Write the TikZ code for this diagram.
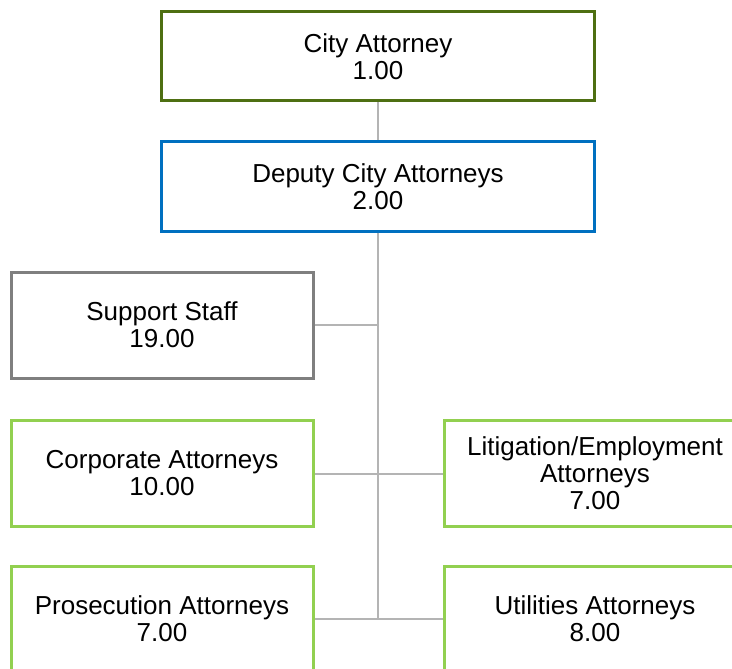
\documentclass[tikz,border=0pt]{standalone}
\usepackage{fontspec}
\setmainfont{Liberation Sans}
\definecolor{darkgreen}{HTML}{4E6F12}
\definecolor{deputyblue}{HTML}{0070C0}
\definecolor{staffgrey}{HTML}{7F7F7F}
\definecolor{lightgreen}{HTML}{92D050}
\definecolor{linkgrey}{HTML}{B4B4B4}
\begin{document}
\begin{tikzpicture}[x=1pt,y=1pt,
  box/.style={draw, line width=3pt, fill=white, inner sep=0pt, align=center,
    font=\fontsize{26}{27}\selectfont},
  topbox/.style={box, minimum width=433pt, minimum height=89pt},
  sidebox/.style={box, minimum width=302pt, minimum height=106pt},
  link/.style={draw=linkgrey, line width=2pt}]
\useasboundingbox (0,0) rectangle (732,-669);
\clip (0,0) rectangle (732,-669);
\coordinate (j3) at (378,-619);
\node[topbox, draw=darkgreen] (ca) at (378,-56.5) {City Attorney\\1.00};
\node[topbox, draw=deputyblue] (dep) at (378,-186.5) {Deputy City Attorneys\\2.00};
\node[sidebox, draw=staffgrey] (sup) at (162,-325) {Support Staff\\19.00};
\node[sidebox, draw=lightgreen] (corp) at (162,-473.5) {Corporate Attorneys\\10.00};
\node[sidebox, draw=lightgreen] (lit) at (595,-473.5) {Litigation/Employment\\Attorneys\\7.00};
\node[sidebox, draw=lightgreen] (pros) at (162,-619) {Prosecution Attorneys\\7.00};
\node[sidebox, draw=lightgreen] (util) at (595,-619) {Utilities Attorneys\\8.00};
\draw[link] (ca.south) -- (dep.north);
\draw[link] (dep.south) -- (j3);
\draw[link] (sup.east) -- (sup.east -| j3);
\draw[link] (corp.east) -- (lit.west);
\draw[link] (pros.east) -- (util.west);
\end{tikzpicture}
\end{document}
